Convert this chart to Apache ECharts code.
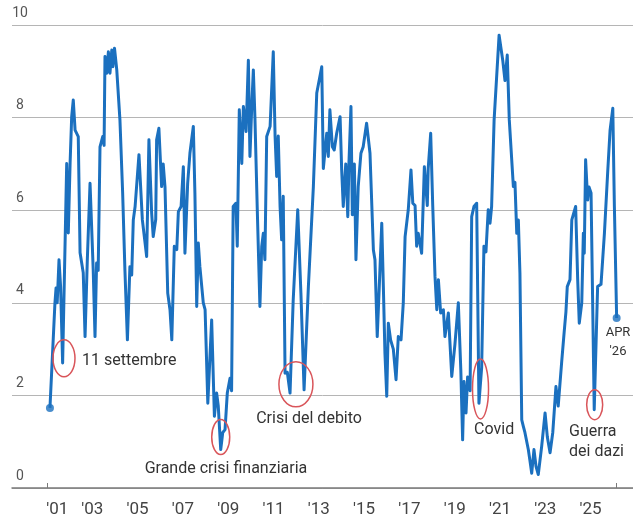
<!DOCTYPE html>
<html>
<head>
<meta charset="utf-8">
<script src="https://cdn.jsdelivr.net/npm/echarts@6/dist/echarts.min.js"></script>
<style>
html,body{margin:0;padding:0;background:#fff;}
#chart{width:633px;height:524px;}
</style>
</head>
<body>
<div id="chart"></div>
<script>
// ---- data (decimal years, index values) ----
const years = [
2001.13,2001.35,2001.40,2001.45,2001.53,2001.60,2001.69,2001.87,2001.94,2002.02,
2002.09,2002.16,2002.24,2002.38,2002.46,2002.60,2002.68,2002.78,2002.90,2002.97,
2003.04,2003.12,2003.19,2003.26,2003.34,2003.46,2003.52,2003.56,2003.64,2003.71,
2003.78,2003.86,2003.91,2003.98,2004.08,2004.22,2004.34,2004.44,2004.55,2004.66,
2004.74,2004.81,2004.89,2005.06,2005.21,2005.40,2005.50,2005.62,2005.69,2005.80,
2005.84,2005.94,2006.06,2006.13,2006.21,2006.33,2006.43,2006.51,2006.62,2006.73,
2006.80,2006.92,2007.02,2007.09,2007.21,2007.31,2007.46,2007.53,2007.61,2007.68,
2007.75,2007.90,2007.98,2008.10,2008.27,2008.39,2008.49,2008.56,2008.67,2008.76,
2008.86,2008.96,2009.08,2009.15,2009.22,2009.34,2009.40,2009.49,2009.60,2009.67,
2009.74,2009.79,2009.89,2009.96,2010.04,2010.11,2010.18,2010.28,2010.40,2010.48,
2010.55,2010.62,2010.70,2010.85,2010.99,2011.07,2011.14,2011.21,2011.29,2011.36,
2011.43,2011.51,2011.61,2011.73,2011.87,2012.07,2012.21,2012.35,2012.54,2012.76,
2012.91,2013.13,2013.20,2013.35,2013.42,2013.49,2013.60,2013.68,2013.79,2013.94,
2014.01,2014.08,2014.19,2014.28,2014.33,2014.42,2014.48,2014.57,2014.64,2014.74,
2014.86,2014.96,2015.11,2015.26,2015.41,2015.48,2015.58,2015.67,2015.78,2015.85,
2015.92,2016.00,2016.07,2016.17,2016.29,2016.41,2016.51,2016.63,2016.73,2016.81,
2016.95,2017.07,2017.15,2017.25,2017.32,2017.39,2017.54,2017.66,2017.79,2017.83,
2017.94,2018.03,2018.13,2018.21,2018.28,2018.38,2018.50,2018.57,2018.72,2018.87,
2019.01,2019.16,2019.27,2019.35,2019.41,2019.50,2019.57,2019.68,2019.75,2019.85,
2019.97,2020.07,2020.19,2020.29,2020.38,2020.48,2020.56,2020.63,2020.74,2020.96,
2021.12,2021.22,2021.32,2021.41,2021.59,2021.66,2021.74,2021.81,2021.88,2021.96,
2022.03,2022.10,2022.25,2022.32,2022.40,2022.50,2022.59,2022.69,2022.84,2022.99,
2023.09,2023.21,2023.33,2023.47,2023.57,2023.72,2023.83,2023.91,2023.97,2024.09,
2024.17,2024.34,2024.43,2024.50,2024.61,2024.68,2024.72,2024.78,2024.87,2024.93,
2025.02,2025.16,2025.31,2025.46,2025.61,2025.76,2025.86,2025.98,2026.05,2026.15
];
const values = [
1.73,3.99,4.32,4.00,4.93,4.35,2.70,7.01,5.51,7.02,
8.02,8.38,7.73,7.59,5.08,4.65,3.27,4.93,6.58,6.58,
4.71,3.27,4.86,4.70,7.37,7.59,7.40,9.32,8.96,9.42,
8.96,9.46,9.10,9.50,9.03,7.95,6.37,4.71,3.20,4.78,
4.60,5.79,6.08,7.20,5.79,5.00,7.52,5.94,5.43,5.80,
7.52,7.77,6.51,7.00,6.50,4.21,3.85,3.20,5.22,5.15,
5.97,6.08,6.94,5.07,6.58,7.23,7.81,6.37,3.92,5.29,
4.78,4.00,3.85,1.83,3.63,1.55,2.05,1.78,0.83,1.20,
1.26,2.05,2.37,2.10,6.08,6.15,5.22,8.17,7.01,8.24,
8.20,7.70,9.24,7.16,8.24,9.03,8.00,6.08,3.92,5.22,
5.50,4.93,7.59,7.81,9.42,7.60,6.73,7.60,6.08,5.36,
6.30,2.48,2.50,2.05,4.06,6.01,4.21,2.12,4.35,6.51,
8.53,9.10,6.90,7.66,7.16,8.17,7.37,7.30,7.66,8.02,
6.87,6.08,7.00,5.86,7.00,8.24,5.90,7.00,4.93,6.51,
7.23,7.37,7.88,7.23,5.14,4.93,3.27,4.35,5.72,4.35,
2.91,1.98,3.56,3.20,3.00,2.34,3.27,3.20,4.00,5.43,
6.01,6.87,6.15,6.10,5.22,5.50,5.07,6.94,6.10,6.90,
7.66,6.10,4.57,3.85,4.50,3.78,3.85,3.27,3.78,2.41,
3.10,4.00,2.55,1.04,2.30,1.62,2.40,2.10,5.86,6.08,
6.15,1.83,2.60,5.22,5.10,6.01,5.72,6.08,7.95,9.78,
9.24,8.80,9.35,7.95,6.51,6.60,5.50,5.79,4.64,1.47,
1.33,1.20,0.83,0.60,0.32,0.83,0.47,0.29,0.90,1.62,
1.10,0.76,1.20,2.19,1.77,2.70,3.35,3.80,4.35,4.50,
5.79,6.08,4.50,3.56,4.00,5.50,5.07,7.09,6.22,6.50,
6.37,1.69,4.35,4.40,5.50,6.87,7.73,8.20,6.08,3.67
];
const yTicks = [0, 2, 4, 6, 8, 10];
const xLabelYears = [2001.45, 2003, 2005, 2007, 2009, 2011, 2013, 2015, 2017, 2019, 2021, 2023, 2025];
const xTickYears = [2001, 2026.15];
// annotations: ellipses [year, value, width(px), height(px)]
const ellipses = [
  [2001.75, 2.80, 22, 37],
  [2008.67, 1.10, 18, 35],
  [2011.99, 2.24, 34, 45],
  [2020.14, 2.14, 16, 60],
  [2025.18, 1.80, 16, 30]
];
const notes = [
  {text: '11 settembre', at: [2002.55, 2.75], align: 'left'},
  {text: 'Grande crisi finanziaria', at: [2008.90, 0.42], align: 'center'},
  {text: 'Crisi del debito', at: [2012.57, 1.49], align: 'center'},
  {text: 'Covid', at: [2020.74, 1.25], align: 'center'},
  {text: 'Guerra\ndei dazi', at: [2024.05, 0.99], align: 'left'},
  {text: "APR\n'26", at: [2026.21, 3.14], align: 'center', small: true}
];

const lineData = years.map((y, i) => [y, values[i]]);
const endPoints = [lineData[0], lineData[lineData.length - 1]];
const FONT = 'Roboto, "Noto Sans", sans-serif';

const chart = echarts.init(document.getElementById('chart'), null, {renderer: 'canvas'});
chart.setOption({
  animation: false,
  backgroundColor: '#fff',
  grid: {left: 12, right: 0, top: 25, bottom: 36, containLabel: false},
  xAxis: {
    type: 'value',
    min: 1999.4547,
    max: 2026.872,
    axisLine: {show: true, lineStyle: {color: '#7a7a7a', width: 1.5}},
    axisTick: {show: true, inside: true, length: 5, customValues: xTickYears, lineStyle: {color: '#7a7a7a', width: 1}},
    splitLine: {show: false},
    axisLabel: {
      customValues: xLabelYears,
      formatter: v => "'" + String(Math.round(v)).slice(2),
      fontSize: 17, color: '#444', fontFamily: FONT, margin: 13
    }
  },
  yAxis: {
    type: 'value',
    min: 0, max: 10, interval: 2,
    axisLine: {show: false},
    axisTick: {show: false},
    splitLine: {show: true, lineStyle: {color: '#b5b5b5', width: 1}},
    axisLabel: {
      inside: true, margin: 8, align: 'center', verticalAlign: 'bottom',
      padding: [0, 0, 5, 0],
      fontSize: 14, color: '#555', fontFamily: FONT,
      customValues: yTicks
    }
  },
  series: [
    {
      type: 'line',
      data: lineData,
      symbol: 'none',
      lineStyle: {color: '#1b70bf', width: 3, join: 'round'},
      z: 3
    },
    {
      type: 'scatter',
      data: endPoints,
      symbolSize: 8,
      itemStyle: {color: '#1b70bf'},
      z: 4
    }
  ]
});

const graphics = [];
ellipses.forEach(e => {
  const p = chart.convertToPixel({gridIndex: 0}, [e[0], e[1]]);
  graphics.push({
    type: 'ellipse',
    shape: {cx: p[0], cy: p[1], rx: e[2] / 2, ry: e[3] / 2},
    style: {fill: 'none', stroke: '#d9555a', lineWidth: 1.5},
    z: 10
  });
});
notes.forEach(n => {
  const p = chart.convertToPixel({gridIndex: 0}, n.at);
  graphics.push({
    type: 'text',
    x: p[0], y: p[1],
    style: {
      text: n.text,
      fill: '#333',
      fontSize: n.small ? 13 : 16,
      fontFamily: FONT,
      align: n.align,
      verticalAlign: 'middle',
      lineHeight: n.small ? 19 : 20
    },
    z: 10
  });
});
chart.setOption({graphic: graphics});
</script>
</body>
</html>
